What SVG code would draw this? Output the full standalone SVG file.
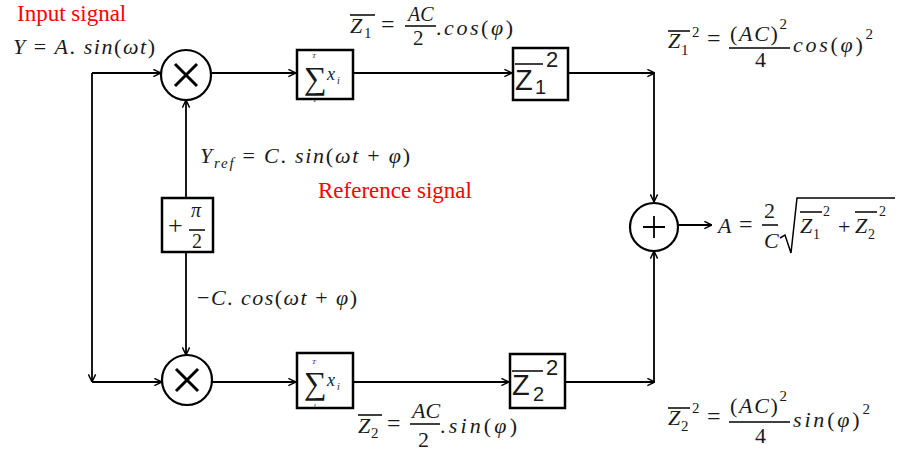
<svg xmlns="http://www.w3.org/2000/svg" width="897" height="454" viewBox="0 0 897 454">
<style>
.ln{stroke:#000;stroke-width:1.8;fill:none}
.bar{stroke:#000;stroke-width:1.5;fill:none}
.box{fill:#fff;stroke:#000;stroke-width:2.5}
.cir{fill:#fff;stroke:#000;stroke-width:2.2}
.sym{stroke:#000;stroke-width:3;fill:none}
.plus{stroke:#000;stroke-width:1.8;fill:none}
text{font-family:"Liberation Serif","DejaVu Serif",serif;fill:#1a1a1a}
.m{font-size:22px;font-style:italic}
.r{font-style:normal}
.s{font-size:15px}
.red{font-size:23px;fill:#ff0000}
.big{font-family:"Liberation Sans","DejaVu Sans",sans-serif;font-size:29px}
.bs{font-family:"Liberation Sans","DejaVu Sans",sans-serif;font-size:20px}
.sg{font-size:32px}
.tiny{font-size:7px;font-style:italic}
</style>
<defs>
<marker id="ah" viewBox="0 0 10 10" refX="9.5" refY="5" markerWidth="9" markerHeight="9" markerUnits="userSpaceOnUse" orient="auto">
<path d="M1,1 L9.5,5 L1,9" fill="none" stroke="#000" stroke-width="1.6"/>
</marker>
</defs>

<g id="connectors">
<path class="ln" d="M92,73 H161" marker-end="url(#ah)"/>
<path class="ln" d="M92,73 V382" marker-end="url(#ah)"/>
<path class="ln" d="M92,382 H162" marker-end="url(#ah)"/>
<path class="ln" d="M211,73 H296" marker-end="url(#ah)"/>
<path class="ln" d="M353,73 H512" marker-end="url(#ah)"/>
<path class="ln" d="M568,73 H655" marker-end="url(#ah)"/>
<path class="ln" d="M654,73 V202" marker-end="url(#ah)"/>
<path class="ln" d="M186,198 V100" marker-end="url(#ah)"/>
<path class="ln" d="M186,252 V355" marker-end="url(#ah)"/>
<path class="ln" d="M212,382 H296" marker-end="url(#ah)"/>
<path class="ln" d="M353,382 H509" marker-end="url(#ah)"/>
<path class="ln" d="M565,382 H655" marker-end="url(#ah)"/>
<path class="ln" d="M654,382 V251" marker-end="url(#ah)"/>
<path class="ln" d="M678,225 H712" marker-end="url(#ah)"/>
</g>

<g id="labels-input">
<text class="red" x="17" y="21">Input signal</text>
<text class="m" x="13" y="54" textLength="142" lengthAdjust="spacing">Y <tspan class="r">=</tspan> A<tspan class="r">.</tspan> sin<tspan class="r">(</tspan>ωt<tspan class="r">)</tspan></text>
</g>

<g id="mult1">
<circle class="cir" cx="186" cy="75" r="25"/>
<path class="sym" d="M175,64 L197,86 M197,64 L175,86"/>
</g>

<g id="mult2">
<circle class="cir" cx="187" cy="380" r="25"/>
<path class="sym" d="M176,369 L198,391 M198,369 L176,391"/>
</g>

<g id="phase">
<rect class="box" x="162" y="198" width="51" height="54"/>
<text class="r" x="168" y="234" style="font-size:26px">+</text>
<text class="m" x="191" y="217" style="font-size:20px">π</text>
<path class="bar" d="M189,230 H205"/>
<text x="192" y="248" style="font-size:20px">2</text>
</g>

<g id="sum1">
<rect class="box" x="297" y="50" width="56" height="49"/>
<text class="sg" x="304" y="89">∑</text>
<text class="tiny" x="312" y="58">T</text>
<text class="tiny r" x="313" y="102">1</text>
<text class="m" x="327" y="80" style="font-size:18px">x</text>
<text class="m" x="337" y="84" style="font-size:10px">i</text>
</g>

<g id="sum2">
<rect class="box" x="297" y="353" width="56" height="55"/>
<text class="sg" x="304" y="394">∑</text>
<text class="tiny" x="312" y="364">T</text>
<text class="tiny r" x="313" y="408">1</text>
<text class="m" x="327" y="386" style="font-size:18px">x</text>
<text class="m" x="337" y="390" style="font-size:10px">i</text>
</g>

<g id="sq1">
<rect class="box" x="513" y="48" width="55" height="52"/>
<path class="bar" d="M515,64 H543"/>
<text class="big" x="515" y="90">Z</text>
<text class="bs" x="535" y="94">1</text>
<text class="bs" x="546" y="67" style="font-size:22px">2</text>
</g>

<g id="sq2">
<rect class="box" x="510" y="354" width="55" height="54"/>
<path class="bar" d="M512,371 H543"/>
<text class="big" x="512" y="395">Z</text>
<text class="bs" x="533" y="401">2</text>
<text class="bs" x="546" y="375" style="font-size:22px">2</text>
</g>

<g id="adder">
<circle class="cir" cx="654" cy="227" r="24"/>
<path class="plus" d="M643,227 H665 M654,216 V238"/>
</g>

<g id="label-z1">
<path class="bar" d="M350,15 H375"/>
<text class="m" x="350" y="33">Z</text>
<text class="s" x="364" y="38">1</text>
<text class="m r" x="381" y="32" style="font-size:24px">=</text>
<text class="m" x="408" y="21" style="font-size:20px">AC</text>
<path class="bar" d="M405,26 H436"/>
<text class="m r" x="413" y="45" style="font-size:21px">2</text>
<text class="m" x="436" y="35" textLength="77" lengthAdjust="spacing"><tspan class="r">.</tspan>cos<tspan class="r">(</tspan>φ<tspan class="r">)</tspan></text>
</g>

<g id="label-z1sq">
<path class="bar" d="M668,31 H690"/>
<text class="m" x="668" y="48">Z</text>
<text class="s" x="681" y="55">1</text>
<text class="s" x="692" y="37">2</text>
<text class="m r" x="707" y="46" style="font-size:24px">=</text>
<text class="m" x="730" y="41" textLength="57" lengthAdjust="spacing"><tspan class="r">(</tspan>AC<tspan class="r">)</tspan><tspan class="s r" dy="-12">2</tspan></text>
<path class="bar" d="M729,48 H790"/>
<text class="m r" x="755" y="67">4</text>
<text class="m" x="793" y="52" textLength="80" lengthAdjust="spacing">cos<tspan class="r">(</tspan>φ<tspan class="r">)</tspan><tspan class="s r" dy="-13">2</tspan></text>
</g>

<g id="label-ref">
<text class="m" x="200" y="163" textLength="210" lengthAdjust="spacing">Y<tspan dy="5" style="font-size:15px">ref</tspan><tspan dy="-5"> </tspan><tspan class="r">=</tspan> C<tspan class="r">.</tspan> sin<tspan class="r">(</tspan>ωt <tspan class="r">+</tspan> φ<tspan class="r">)</tspan></text>
<text class="red" x="318" y="198">Reference signal</text>
<text class="m" x="197" y="305" textLength="160" lengthAdjust="spacing"><tspan class="r">−</tspan>C<tspan class="r">.</tspan> cos<tspan class="r">(</tspan>ωt <tspan class="r">+</tspan> φ<tspan class="r">)</tspan></text>
</g>

<g id="label-out">
<text class="m" x="718" y="233">A</text>
<text class="m r" x="739" y="232" style="font-size:24px">=</text>
<text class="m r" x="764" y="218">2</text>
<path class="bar" d="M762,225 H778"/>
<text class="m" x="764" y="248">C</text>
<path class="bar" d="M780,238 L785,235 L791,253 L797,198 H895"/>
<path class="bar" d="M800,212 H822"/>
<text class="m" x="800" y="233">Z</text>
<text class="s" x="813" y="239" style="font-size:14px">1</text>
<text class="s" x="823" y="216" style="font-size:14px">2</text>
<text class="m r" x="838" y="234">+</text>
<path class="bar" d="M855,212 H877"/>
<text class="m" x="855" y="233">Z</text>
<text class="s" x="868" y="239" style="font-size:14px">2</text>
<text class="s" x="879" y="216" style="font-size:14px">2</text>
</g>

<g id="label-z2">
<path class="bar" d="M358,415 H382"/>
<text class="m" x="358" y="433">Z</text>
<text class="s" x="371" y="438">2</text>
<text class="m r" x="387" y="431" style="font-size:24px">=</text>
<text class="m" x="412" y="418">AC</text>
<path class="bar" d="M410,424 H440"/>
<text class="m r" x="418" y="447">2</text>
<text class="m" x="440" y="433" textLength="77" lengthAdjust="spacing"><tspan class="r">.</tspan>sin<tspan class="r">(</tspan>φ<tspan class="r">)</tspan></text>
</g>

<g id="label-z2sq">
<path class="bar" d="M668,408 H690"/>
<text class="m" x="668" y="425">Z</text>
<text class="s" x="681" y="431">2</text>
<text class="s" x="692" y="413">2</text>
<text class="m r" x="707" y="424" style="font-size:24px">=</text>
<text class="m" x="730" y="413" textLength="57" lengthAdjust="spacing"><tspan class="r">(</tspan>AC<tspan class="r">)</tspan><tspan class="s r" dy="-12">2</tspan></text>
<path class="bar" d="M729,422 H790"/>
<text class="m r" x="755" y="443">4</text>
<text class="m" x="793" y="427" textLength="77" lengthAdjust="spacing">sin<tspan class="r">(</tspan>φ<tspan class="r">)</tspan><tspan class="s r" dy="-13">2</tspan></text>
</g>
</svg>
